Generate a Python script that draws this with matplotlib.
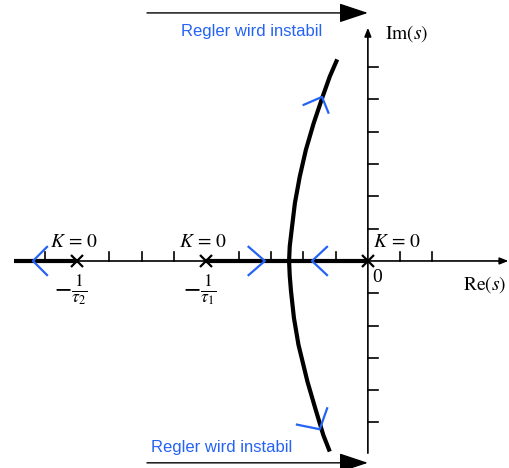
import numpy as np
import matplotlib.pyplot as plt

plt.rcParams['mathtext.fontset'] = 'stix'
plt.rcParams['font.family'] = 'Liberation Serif'

BLUE = '#2563f5'

# Open-loop poles (K = 0) on the real axis
poles = [-9.0, -5.0, 0.0]
pole_labels = [r'$-\frac{1}{\tau_2}$', r'$-\frac{1}{\tau_1}$', '']

# Tick marks on both axes
re_ticks = [-10, -8, -7, -6, -4, -3, -2, -1, 1, 2]
im_ticks = [-5, -4, -3, -2, -1, 1, 2, 3, 4, 5, 6]

# Complex branches of the root locus, leaving the breakaway point
upper_re = [-2.44, -2.42, -2.36, -2.26, -2.11, -1.92, -1.68, -1.40, -1.18, -0.95]
upper_im = [0.0, 0.45, 0.96, 1.79, 2.61, 3.44, 4.26, 5.09, 5.71, 6.24]
lower_re = [-2.44, -2.42, -2.38, -2.29, -2.15, -1.87, -1.63, -1.38, -1.18]
lower_im = [0.0, -0.45, -0.94, -1.76, -2.59, -3.74, -4.56, -5.39, -5.90]

# Direction chevrons: tip and the two arm ends
chevrons = [
    ((-10.37, 0.0), (-9.91, 0.46), (-9.91, -0.46)),
    ((-3.19, 0.0), (-3.72, 0.46), (-3.72, -0.46)),
    ((-1.73, 0.0), (-1.24, 0.46), (-1.24, -0.46)),
    ((-1.42, 5.08), (-2.02, 4.82), (-1.21, 4.56)),
    ((-1.49, -5.21), (-2.23, -5.06), (-1.25, -4.53)),
]

fig = plt.figure(figsize=(5.1, 4.68), dpi=100)
ax = fig.add_axes([0, 0, 1, 1])
ax.set_xlim(-11.39, 4.40)
ax.set_ylim(-6.41, 8.08)
ax.set_aspect('equal')
ax.axis('off')

# real axis: thick where it belongs to the locus
ax.plot([-10.95, poles[0]], [0, 0], color='black', lw=3.0, solid_capstyle='butt')
ax.plot([poles[1], poles[2]], [0, 0], color='black', lw=3.0, solid_capstyle='butt')
ax.plot([poles[0], poles[1]], [0, 0], color='black', lw=1.2)
ax.annotate('', xy=(4.35, 0), xytext=(0, 0),
            arrowprops=dict(arrowstyle='-|>,head_length=0.5,head_width=0.2',
                            lw=1.2, color='black', mutation_scale=10,
                            shrinkA=0, shrinkB=0))
for t in re_ticks:
    ax.plot([t, t], [0, 0.27], color='black', lw=1.2)

# imaginary axis
ax.annotate('', xy=(0, 7.22), xytext=(0, -5.95),
            arrowprops=dict(arrowstyle='-|>,head_length=0.5,head_width=0.2',
                            lw=1.2, color='black', mutation_scale=10,
                            shrinkA=0, shrinkB=0))
for t in im_ticks:
    ax.plot([0, 0.3], [t, t], color='black', lw=1.2)

# locus branches
ax.plot(upper_re, upper_im, color='black', lw=3.0, solid_capstyle='butt',
        solid_joinstyle='round')
ax.plot(lower_re, lower_im, color='black', lw=3.0, solid_capstyle='butt',
        solid_joinstyle='round')

# poles
ax.plot(poles, [0] * len(poles), linestyle='none', marker='x', ms=9,
        mew=1.6, color='black')
for p, lab in zip(poles, pole_labels):
    ax.text(p - 0.1 if p < 0 else p + 0.9, 0.58, r'$K\,=\,0$', fontsize=14,
            ha='center', va='center')
    if lab:
        ax.text(p - 0.2, -0.9, lab, fontsize=18, ha='center', va='center')
ax.text(0.3, -0.5, '0', fontsize=14, ha='center', va='center')
ax.text(3.62, -0.74, r'$\mathrm{Re}(s)$', fontsize=14, ha='center', va='center')
ax.text(1.21, 7.05, r'$\mathrm{Im}(s)$', fontsize=14, ha='center', va='center')

# direction chevrons
for tip, a, b in chevrons:
    ax.plot([a[0], tip[0], b[0]], [a[1], tip[1], b[1]], color=BLUE, lw=1.6,
            solid_capstyle='butt')

# instability arrows
for y_arrow, y_text, x_text in [(7.68, 7.09, -3.59), (-6.25, -5.76, -4.52)]:
    ax.annotate('', xy=(0.0, y_arrow), xytext=(-6.84, y_arrow),
                arrowprops=dict(arrowstyle='-|>,head_length=0.9,head_width=0.3',
                                lw=1.0, color='black', mutation_scale=20,
                                shrinkA=0, shrinkB=0))
    ax.text(x_text, y_text, 'Regler wird instabil', fontsize=12, color=BLUE,
            family='Liberation Sans', ha='center', va='center')

fig.savefig('out.png', dpi=100)
